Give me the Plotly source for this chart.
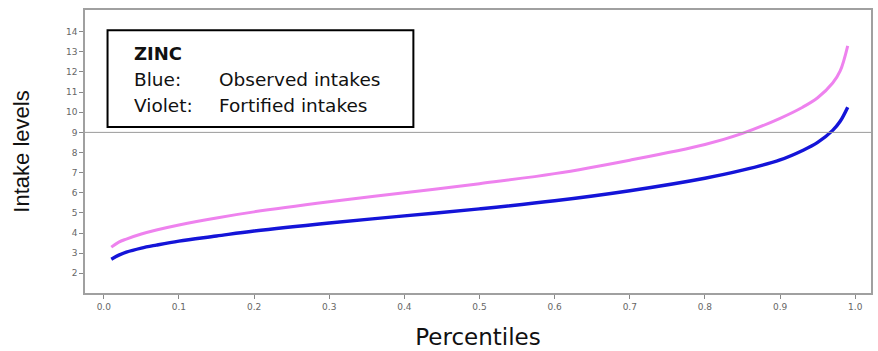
import plotly.graph_objects as go

pct = [0.01, 0.02, 0.03, 0.05, 0.07, 0.1, 0.15, 0.2, 0.3, 0.4, 0.5, 0.6, 0.7, 0.8, 0.85, 0.9, 0.93, 0.95, 0.97, 0.98, 0.99]
observed = [2.7, 2.9, 3.05, 3.25, 3.4, 3.6, 3.85, 4.1, 4.5, 4.85, 5.2, 5.6, 6.1, 6.72, 7.12, 7.63, 8.1, 8.5, 9.1, 9.55, 10.25]
fortified = [3.3, 3.55, 3.7, 3.95, 4.15, 4.4, 4.75, 5.05, 5.55, 6.0, 6.45, 6.95, 7.62, 8.4, 8.95, 9.7, 10.25, 10.72, 11.45, 12.05, 13.3]
x_ticks = [0.0, 0.1, 0.2, 0.3, 0.4, 0.5, 0.6, 0.7, 0.8, 0.9, 1.0]
y_ticks = list(range(2, 15))
ref_level = 9

fig = go.Figure()
fig.add_trace(go.Scatter(x=pct, y=observed, mode="lines", line=dict(color="#1414d8", width=3.4, shape="spline"), showlegend=False))
fig.add_trace(go.Scatter(x=pct, y=fortified, mode="lines", line=dict(color="#ee82ee", width=3, shape="spline"), showlegend=False))

fig.add_shape(type="line", xref="paper", x0=0, x1=1, y0=ref_level, y1=ref_level, line=dict(color="#9a9a9a", width=1))
fig.add_shape(type="rect", x0=0.005, x1=0.412, y0=9.27, y1=14.08, line=dict(color="black", width=2), fillcolor="white", layer="above")

wide = "DejaVu Sans, Verdana, sans-serif"
lf = dict(size=18.5, color="#111", family=wide)
fig.add_annotation(x=0.037, y=12.94, text="<b>ZINC</b>", showarrow=False, xanchor="left", font=dict(size=18, color="#111", family=wide))
fig.add_annotation(x=0.037, y=11.65, text="Blue:", showarrow=False, xanchor="left", font=lf)
fig.add_annotation(x=0.150, y=11.65, text="Observed intakes", showarrow=False, xanchor="left", font=lf)
fig.add_annotation(x=0.037, y=10.36, text="Violet:", showarrow=False, xanchor="left", font=lf)
fig.add_annotation(x=0.150, y=10.36, text="Fortified intakes", showarrow=False, xanchor="left", font=lf)

fig.update_layout(
    width=878, height=351,
    margin=dict(l=85, r=5, t=10, b=58),
    plot_bgcolor="white", paper_bgcolor="white",
    font=dict(family=wide),
    xaxis=dict(range=[-0.025, 1.021], tickvals=x_ticks, ticktext=[f"{v:.1f}" for v in x_ticks],
               ticks="outside", ticklen=4, tickcolor="#888", showgrid=False, zeroline=False,
               showline=True, linecolor="#a0a0a0", mirror=True, linewidth=1.5,
               tickfont=dict(size=9, color="#666"),
               title=dict(text="Percentiles", font=dict(size=23, color="#111", family=wide), standoff=18)),
    yaxis=dict(range=[1.02, 15.08], tickvals=y_ticks, ticks="outside", ticklen=4, tickcolor="#888",
               showgrid=False, zeroline=False, showline=True, linecolor="#a0a0a0", mirror=True, linewidth=1.5,
               tickfont=dict(size=9, color="#666"),
               title=dict(text="Intake levels", font=dict(size=22, color="#111", family="Liberation Sans, Arial, sans-serif"), standoff=30)),
)

fig.write_html("out.html")
